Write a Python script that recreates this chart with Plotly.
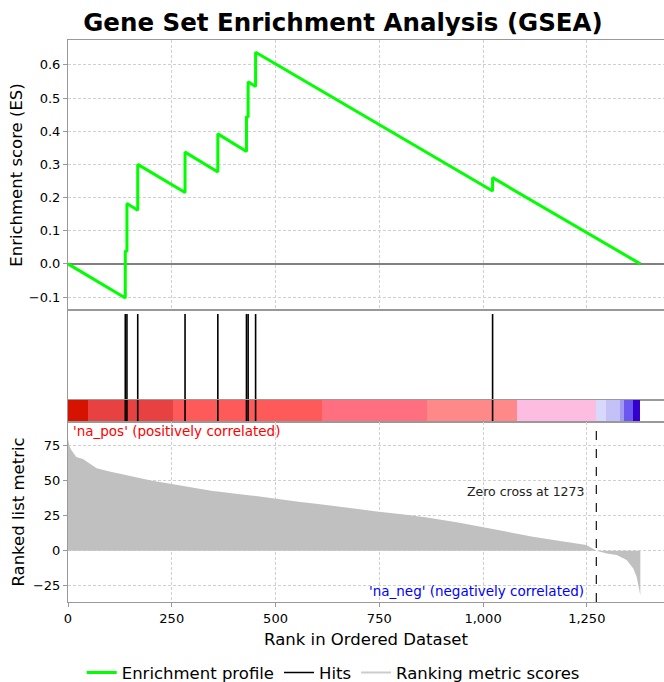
import plotly.graph_objects as go

# ---------------- data ----------------
es_rank = [0, 138, 138, 142, 142, 168, 168, 282, 282, 361, 361, 430, 430, 434, 434,
           452, 452, 1023, 1023, 1379]
es_value = [0.0, -0.103, 0.040, 0.037, 0.182, 0.162, 0.300, 0.215, 0.337, 0.277, 0.392,
            0.339, 0.445, 0.442, 0.549, 0.535, 0.638, 0.220, 0.260, 0.0]

hit_ranks = [138, 142, 168, 282, 361, 430, 434, 452, 1023]

metric_rank = [0, 3, 8, 20, 36, 69, 100, 155, 200, 250, 300, 345, 440, 500, 560, 603, 625,
               690, 749, 810, 861, 940, 999, 1060, 1120, 1190, 1249, 1273, 1298, 1322,
               1346, 1362, 1370, 1375, 1378, 1379]
metric_value = [80, 75, 72, 67, 65.5, 58.9, 56.5, 52.9, 50.2, 47.6, 45.3, 42.9, 39.5, 36.9,
                34.8, 33.4, 32.5, 30.2, 27.9, 25.8, 23.9, 20.2, 16.7, 13.5, 10.0, 6.8, 4.1,
                0, -1.9, -3.1, -6.6, -12.6, -18.6, -25.7, -31.6, -32]

band_edges = [0, 49, 254, 611, 865, 1082, 1273, 1297, 1329, 1339, 1362, 1379]
band_colors = ['#d61200', '#e84141', '#ff5a5a', '#ff6f80', '#ff8888', '#fdbde0',
               '#d8d8fc', '#c4c0f8', '#a09af0', '#6a58f0', '#3300cc']

zero_cross = 1273
x_ticks = [0, 250, 500, 750, 1000, 1250]
es_ticks = [-0.1, 0.0, 0.1, 0.2, 0.3, 0.4, 0.5, 0.6]
metric_ticks = [-25, 0, 25, 50, 75]

title_text = "Gene Set Enrichment Analysis (GSEA)"

# ---------------- figure ----------------
FONT = "DejaVu Sans"
X_RANGE = [0, 1436]
fig = go.Figure()

# Enrichment profile
fig.add_trace(go.Scatter(x=es_rank, y=es_value, mode="lines",
                         line=dict(color="#00ff00", width=3),
                         name="Enrichment profile", xaxis="x", yaxis="y"))

# Hits (hits panel)
hx, hy = [], []
for r in hit_ranks:
    hx += [r, r, None]
    hy += [0, 0.955, None]
fig.add_trace(go.Scatter(x=hx, y=hy, mode="lines", line=dict(color="black", width=1.6),
                         name="Hits", xaxis="x2", yaxis="y2"))

# Colour band
mids = [(band_edges[i] + band_edges[i + 1]) / 2 for i in range(len(band_colors))]
widths = [band_edges[i + 1] - band_edges[i] for i in range(len(band_colors))]
fig.add_trace(go.Bar(x=mids, y=[1] * len(mids), width=widths,
                     marker=dict(color=band_colors, line=dict(width=0)),
                     showlegend=False, hoverinfo="skip", xaxis="x3", yaxis="y3"))
bx, by = [], []
for r in hit_ranks:
    bx += [r, r, None]
    by += [0, 1, None]
fig.add_trace(go.Scatter(x=bx, y=by, mode="lines", line=dict(color="black", width=1.6),
                         showlegend=False, xaxis="x3", yaxis="y3"))

# Ranked metric
fig.add_trace(go.Scatter(x=metric_rank, y=metric_value, mode="lines", fill="tozeroy",
                         fillcolor="#c0c0c0", line=dict(color="#c0c0c0", width=0),
                         showlegend=False, xaxis="x4", yaxis="y4"))
fig.add_trace(go.Scatter(x=[None], y=[None], mode="lines",
                         line=dict(color="#cccccc", width=2),
                         name="Ranking metric scores", xaxis="x4", yaxis="y4"))

# ---------------- layout ----------------
H_TOP, H_BOT, H = 40, 602, 682
def dom(top_px, bot_px):
    span = H_BOT - H_TOP
    return [(H_BOT - bot_px) / span, (H_BOT - top_px) / span]

frame = dict(showline=True, mirror=True, linecolor="#999999", linewidth=1, automargin=False)
grid = dict(showgrid=True, gridcolor="#d0d0d0", griddash="3px,2px", gridwidth=1)
tickfont = dict(family=FONT, size=13, color="black")

fig.update_layout(
    width=664, height=682,
    margin=dict(l=68, r=0, t=H_TOP, b=H - H_BOT, autoexpand=False),
    paper_bgcolor="white", plot_bgcolor="white",
    font=dict(family=FONT, color="black"),
    title=dict(text="<b>" + title_text + "</b>", font=dict(family=FONT, size=24.5, color="black"),
               x=343 / 664, xref="container", xanchor="center",
               y=1 - 22 / 682, yref="container", yanchor="middle"),
    bargap=0,
    showlegend=True,
    legend=dict(orientation="h", x=0.445, xanchor="center", y=-0.126, yanchor="middle",
                font=dict(family=FONT, size=16.5, color="black"), itemwidth=30,
                bgcolor="rgba(0,0,0,0)"),
    xaxis=dict(domain=[0, 1], anchor="y", range=X_RANGE, tickvals=x_ticks,
               showticklabels=False, ticks="", zeroline=False, **frame, **grid),
    yaxis=dict(domain=dom(40, 310), anchor="x", range=[-0.139, 0.675], tickvals=es_ticks,
               tickformat=".1f", ticks="outside", ticklen=4, tickcolor="#999999",
               tickfont=tickfont, zeroline=True, zerolinecolor="#808080", zerolinewidth=1.5,
               title=dict(text="Enrichment score (ES)", font=dict(family=FONT, size=16.5),
                          standoff=2),
               **frame, **grid),
    xaxis2=dict(domain=[0, 1], anchor="y2", range=X_RANGE, showticklabels=False,
                ticks="", showgrid=False, zeroline=False, **frame),
    yaxis2=dict(domain=dom(310, 400), anchor="x2", range=[0, 1], showticklabels=False,
                ticks="", showgrid=False, zeroline=False, **frame),
    xaxis3=dict(domain=[0, 1], anchor="y3", range=X_RANGE, showticklabels=False,
                ticks="", showgrid=False, zeroline=False, **frame),
    yaxis3=dict(domain=dom(400, 422), anchor="x3", range=[0, 1], showticklabels=False,
                ticks="", showgrid=False, zeroline=False, **frame),
    xaxis4=dict(domain=[0, 1], anchor="y4", range=X_RANGE, tickvals=x_ticks,
                tickformat=",d", ticks="outside", ticklen=4, tickcolor="#999999",
                tickfont=tickfont, zeroline=False,
                title=dict(text="Rank in Ordered Dataset", font=dict(family=FONT, size=16.5),
                           standoff=8),
                **frame, **grid),
    yaxis4=dict(domain=dom(422, 602), anchor="x4", range=[-36.6, 91.9], tickvals=metric_ticks,
                ticks="outside", ticklen=4, tickcolor="#999999", tickfont=tickfont,
                zeroline=False,
                title=dict(text="Ranked list metric", font=dict(family=FONT, size=16.5),
                           standoff=4),
                **frame, **grid),
)

# zero-cross line and labels
fig.add_shape(type="line", xref="x4", yref="y4 domain", x0=zero_cross, x1=zero_cross,
              y0=0, y1=1, line=dict(color="#222222", width=1.3, dash="dash"))
fig.add_annotation(xref="x4", yref="y4", x=zero_cross, y=42.6, xshift=-10,
                   text="Zero cross at %d" % zero_cross, showarrow=False,
                   xanchor="right", yanchor="middle",
                   font=dict(family=FONT, size=12.5, color="#222222"))
fig.add_annotation(xref="x4 domain", yref="y4", x=0, y=85.7, xshift=3,
                   text="'na_pos' (positively correlated)", showarrow=False,
                   xanchor="left", yanchor="middle",
                   font=dict(family=FONT, size=13.5, color="red"))
fig.add_annotation(xref="x4", yref="y4", x=zero_cross, y=-28.4, xshift=-10,
                   text="'na_neg' (negatively correlated)", showarrow=False,
                   xanchor="right", yanchor="middle",
                   font=dict(family=FONT, size=13.5, color="blue"))

fig.write_html("out.html", config={"displayModeBar": False},
               post_script="document.body.style.margin='0';document.body.style.overflow='hidden';")
